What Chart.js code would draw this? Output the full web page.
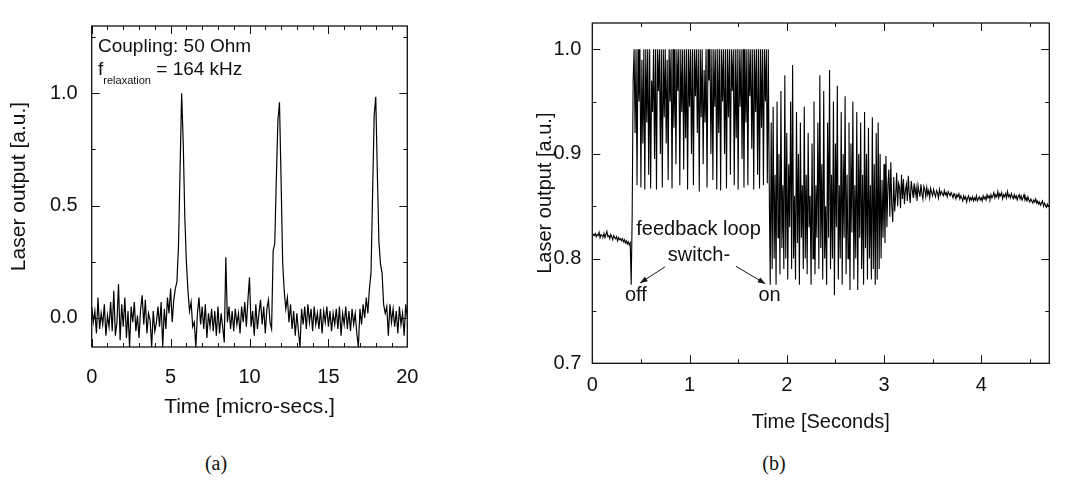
<!DOCTYPE html>
<html>
<head>
<meta charset="utf-8">
<script src="https://cdn.jsdelivr.net/npm/chart.js@4.4.1/dist/chart.umd.min.js"></script>
<style>
  html, body { margin: 0; padding: 0; background: #fff; }
  body { width: 1081px; height: 490px; position: relative; overflow: hidden; }
  canvas { position: absolute; top: 0; }
  #ca { left: 0; }
  #cb { left: 500px; }
  .cap { position: absolute; font-family: "Liberation Serif", "DejaVu Serif", serif; font-size: 20px; color: #111; transform: translate(-50%, -50%); white-space: nowrap; }
</style>
</head>
<body>
<canvas id="ca" width="440" height="440"></canvas>
<canvas id="cb" width="581" height="440"></canvas>
<div class="cap" style="left:216px; top:463px;">(a)</div>
<div class="cap" style="left:774px; top:463px;">(b)</div>
<script>
// ---------------- Data: panel (a) ----------------
const timeStepA = 0.1;           // micro-seconds between samples
const signalA = [
  0.05,-0.02,0.03,-0.07,0.09,-0.05,0.02,-0.03,0.06,-0.08,
  0.01,-0.04,0.07,-0.06,0.12,-0.08,-0.02,0.15,-0.10,0.06,
  -0.04,0.09,-0.09,0.03,-0.13,0.05,-0.02,0.07,-0.06,0.01,
  -0.09,0.04,0.10,-0.03,0.08,-0.07,0.02,-0.01,-0.13,0.03,
  -0.06,-0.02,0.05,-0.04,0.07,-0.13,0.04,-0.05,0.09,0.02,
  0.13,-0.02,0.08,0.13,0.16,0.32,0.66,1.00,0.78,0.45,
  0.25,0.12,0.03,0.07,-0.04,-0.02,-0.13,0.02,0.09,-0.03,
  0.05,-0.05,0.06,-0.09,0.02,-0.04,0.04,-0.06,0.03,-0.08,
  0.05,-0.07,0.02,-0.04,-0.11,0.27,-0.02,0.05,-0.05,0.03,
  -0.06,0.04,-0.03,0.02,-0.07,0.05,-0.02,0.07,-0.04,0.08,
  0.18,-0.04,0.03,-0.08,0.06,-0.05,0.02,0.08,-0.03,0.05,
  -0.07,0.04,0.08,-0.02,-0.05,0.30,0.33,0.62,0.88,0.96,
  0.62,0.25,0.12,0.04,0.09,-0.02,0.06,-0.05,0.03,-0.08,
  0.02,-0.06,-0.13,0.04,-0.03,0.05,-0.05,0.06,-0.02,0.04,
  -0.06,0.05,-0.03,0.02,-0.05,0.04,-0.07,0.03,-0.02,0.05,
  -0.04,0.03,-0.06,0.02,-0.03,0.04,-0.05,0.05,-0.08,0.02,
  -0.03,0.05,-0.05,0.03,-0.06,0.04,-0.03,0.02,-0.07,-0.13,
  0.04,-0.03,0.06,0.00,0.09,0.02,0.13,0.20,0.55,0.90,
  0.985,0.65,0.34,0.24,0.20,0.06,0.02,0.05,-0.08,0.06,
  -0.02,0.04,-0.04,0.03,-0.07,0.05,-0.03,0.02,-0.08,0.06,
  0.00
];
const xTicksA = [0, 5, 10, 15, 20];
const xMinorA = [1,2,3,4,6,7,8,9,11,12,13,14,16,17,18,19];
const yTicksA = [0.0, 0.5, 1.0];
const yMinorA = [0.25, 0.75, 1.25];

// ---------------- Data: panel (b) ----------------
const timeStepB = 0.01;          // seconds between samples
const signalB = [
  0.821,0.823,0.822,0.824,0.821,0.823,0.822,0.825,0.820,0.823,
  0.822,0.821,0.824,0.820,0.823,0.826,0.821,0.822,0.819,0.823,
  0.821,0.818,0.822,0.820,0.819,0.821,0.817,0.820,0.818,0.819,
  0.817,0.819,0.816,0.818,0.815,0.817,0.814,0.816,0.813,0.815,
  0.775,0.840,0.970,1.0,0.92,1.0,0.87,1.0,0.95,1.0,
  0.868,0.99,0.91,1.0,0.866,1.0,0.93,1.0,0.88,1.0,
  0.867,0.97,0.94,1.0,0.895,1.0,0.866,1.0,0.96,1.0,
  0.90,1.0,0.868,1.0,0.935,1.0,0.91,0.99,0.875,1.0,
  0.95,1.0,0.867,1.0,0.925,1.0,0.89,1.0,0.96,1.0,
  0.87,1.0,0.94,1.0,0.885,1.0,0.915,1.0,0.866,1.0,
  0.945,1.0,0.90,1.0,0.87,1.0,0.955,1.0,0.92,1.0,
  0.864,1.0,0.935,1.0,0.89,0.98,0.93,1.0,0.868,1.0,
  0.97,1.0,0.90,1.0,0.875,1.0,0.945,1.0,0.866,1.0,
  0.92,1.0,0.865,1.0,0.95,1.0,0.90,1.0,0.867,1.0,
  0.935,1.0,0.88,1.0,0.96,1.0,0.87,1.0,0.915,1.0,
  0.866,1.0,0.945,1.0,0.895,1.0,0.868,1.0,0.93,1.0,
  0.87,1.0,0.955,1.0,0.905,1.0,0.866,1.0,0.94,1.0,
  0.88,1.0,0.867,1.0,0.925,1.0,0.87,1.0,0.95,1.0,
  0.872,1.0,0.866,0.775,0.93,0.79,0.945,0.80,0.88,0.775,
  0.95,0.82,0.90,0.785,0.96,0.81,0.87,0.79,0.975,0.80,
  0.92,0.78,0.89,0.83,0.95,0.79,0.985,0.80,0.86,0.78,
  0.94,0.815,0.90,0.775,0.93,0.82,0.87,0.79,0.945,0.80,
  0.88,0.785,0.92,0.83,0.86,0.775,0.91,0.80,0.95,0.785,
  0.87,0.82,0.93,0.79,0.975,0.81,0.89,0.78,0.96,0.80,
  0.85,0.775,0.93,0.82,0.98,0.79,0.88,0.80,0.95,0.765,
  0.91,0.83,0.965,0.78,0.87,0.80,0.94,0.775,0.90,0.82,
  0.955,0.785,0.88,0.80,0.93,0.77,0.91,0.825,0.95,0.78,
  0.87,0.80,0.94,0.77,0.90,0.82,0.93,0.79,0.88,0.775,
  0.94,0.81,0.90,0.78,0.925,0.80,0.87,0.78,0.935,0.79,
  0.89,0.775,0.92,0.78,0.93,0.79,0.90,0.80,0.875,0.82,
  0.89,0.815,0.898,0.83,0.87,0.885,0.84,0.892,0.85,0.835,
  0.878,0.845,0.86,0.882,0.85,0.872,0.868,0.848,0.88,0.857,
  0.876,0.852,0.865,0.871,0.855,0.879,0.862,0.853,0.874,0.866,
  0.858,0.872,0.861,0.868,0.855,0.87,0.864,0.859,0.871,0.862,
  0.857,0.869,0.866,0.859,0.868,0.861,0.865,0.858,0.867,0.863,
  0.86,0.866,0.862,0.859,0.865,0.863,0.858,0.866,0.861,0.864,
  0.862,0.86,0.865,0.861,0.863,0.859,0.864,0.862,0.86,0.863,
  0.861,0.858,0.862,0.86,0.857,0.861,0.859,0.862,0.857,0.86,
  0.858,0.855,0.86,0.857,0.859,0.854,0.858,0.86,0.855,0.858,
  0.856,0.859,0.855,0.858,0.856,0.86,0.855,0.857,0.859,0.856,
  0.858,0.855,0.86,0.857,0.859,0.856,0.861,0.858,0.86,0.857,
  0.861,0.858,0.86,0.863,0.858,0.861,0.859,0.864,0.858,0.862,
  0.86,0.863,0.857,0.861,0.859,0.862,0.858,0.864,0.859,0.861,
  0.858,0.862,0.859,0.857,0.861,0.858,0.86,0.856,0.859,0.861,
  0.857,0.86,0.856,0.858,0.861,0.856,0.858,0.855,0.859,0.856,
  0.854,0.857,0.855,0.853,0.856,0.854,0.857,0.853,0.855,0.852,
  0.854,0.851,0.853,0.855,0.85,0.853,0.851,0.849,0.852,0.85,
  0.851
];
const xTicksB = [0, 1, 2, 3, 4];
const xMinorB = [0.5, 1.5, 2.5, 3.5, 4.5];
const yTicksB = [0.7, 0.8, 0.9, 1.0];
const yMinorB = [0.75, 0.85, 0.95];

// ---------------- Helpers ----------------
const timesA = signalA.map((_, i) => +(i * timeStepA).toFixed(3));
const timesB = signalB.map((_, i) => +(i * timeStepB).toFixed(3));
const FONT = '"Liberation Sans", Arial, Helvetica, sans-serif';
const INK = '#111';

const frameTicks = {
  id: 'frameTicks',
  afterDatasetsDraw(chart, args, o) {
    const { ctx, chartArea: ca, scales: { x, y } } = chart;
    ctx.save();
    ctx.strokeStyle = INK;
    ctx.lineWidth = 1;
    const seg = (x1, y1, x2, y2) => { ctx.beginPath(); ctx.moveTo(x1, y1); ctx.lineTo(x2, y2); ctx.stroke(); };
    const vx = (v, L) => { const p = Math.round(x.getPixelForValue(v)) + 0.5; seg(p, ca.bottom, p, ca.bottom - L); seg(p, ca.top, p, ca.top + L); };
    const vy = (v, L) => { const p = Math.round(y.getPixelForValue(v)) + 0.5; seg(ca.left, p, ca.left + L, p); seg(ca.right, p, ca.right - L, p); };
    o.xMajor.forEach(v => vx(v, o.major));
    o.xMinor.forEach(v => vx(v, o.minor));
    o.yMajor.forEach(v => vy(v, o.major));
    o.yMinor.forEach(v => vy(v, o.minor));
    ctx.lineWidth = 1.3;
    ctx.strokeRect(ca.left, ca.top, ca.width, ca.height);
    ctx.restore();
  }
};

const notes = {
  id: 'notes',
  afterDraw(chart, args, o) {
    const { ctx, scales: { x, y } } = chart;
    ctx.save();
    ctx.fillStyle = INK;
    ctx.strokeStyle = INK;
    (o.texts || []).forEach(t => {
      let px = x.getPixelForValue(t.x), py = y.getPixelForValue(t.y);
      ctx.textBaseline = 'alphabetic';
      ctx.textAlign = t.align || 'left';
      if (t.parts) {
        ctx.textAlign = 'left';
        t.parts.forEach(p => {
          ctx.font = p.size + 'px ' + FONT;
          ctx.fillText(p.text, px, py + (p.dy || 0));
          px += ctx.measureText(p.text).width;
        });
      } else {
        ctx.font = t.size + 'px ' + FONT;
        ctx.fillText(t.text, px, py);
      }
    });
    (o.arrows || []).forEach(a => {
      const x1 = x.getPixelForValue(a.x1), y1 = y.getPixelForValue(a.y1);
      const x2 = x.getPixelForValue(a.x2), y2 = y.getPixelForValue(a.y2);
      ctx.lineWidth = 1;
      ctx.beginPath(); ctx.moveTo(x1, y1); ctx.lineTo(x2, y2); ctx.stroke();
      const ang = Math.atan2(y2 - y1, x2 - x1), L = 8, W = 0.35;
      ctx.beginPath();
      ctx.moveTo(x2, y2);
      ctx.lineTo(x2 - L * Math.cos(ang - W), y2 - L * Math.sin(ang - W));
      ctx.lineTo(x2 - L * Math.cos(ang + W), y2 - L * Math.sin(ang + W));
      ctx.closePath(); ctx.fill();
    });
    ctx.restore();
  }
};

function makeChart(id, times, values, cfg) {
  return new Chart(document.getElementById(id), {
    type: 'line',
    data: {
      labels: times,
      datasets: [{ data: values, borderColor: '#000', borderWidth: cfg.lw, pointRadius: 0, tension: 0, fill: false }]
    },
    plugins: [frameTicks, notes],
    options: {
      responsive: false,
      animation: false,
      events: [],
      layout: { padding: cfg.pad },
      plugins: {
        legend: { display: false },
        tooltip: { enabled: false },
        frameTicks: { xMajor: cfg.xTicks, xMinor: cfg.xMinor, yMajor: cfg.yTicks, yMinor: cfg.yMinor, major: 8, minor: 4 },
        notes: cfg.notes
      },
      scales: {
        x: {
          type: 'linear', min: cfg.xMin, max: cfg.xMax,
          afterBuildTicks: s => { s.ticks = cfg.xTicks.map(v => ({ value: v })); },
          afterFit: s => { s.height = cfg.xH; },
          ticks: { autoSkip: false, maxRotation: 0, padding: cfg.xPad, color: INK, font: { family: FONT, size: cfg.tickSize }, callback: v => String(v) },
          grid: { display: false, drawTicks: false },
          border: { display: false },
          title: { display: true, text: cfg.xTitle, color: INK, font: { family: FONT, size: cfg.titleSize, lineHeight: 1.2 }, padding: { top: 0, bottom: cfg.xTitlePad } }
        },
        y: {
          type: 'linear', min: cfg.yMin, max: cfg.yMax,
          afterBuildTicks: s => { s.ticks = cfg.yTicks.map(v => ({ value: v })); },
          afterFit: s => { s.width = cfg.yW; },
          ticks: { autoSkip: false, padding: cfg.yPad, color: INK, font: { family: FONT, size: cfg.tickSize }, callback: v => v.toFixed(1) },
          grid: { display: false, drawTicks: false },
          border: { display: false },
          title: { display: true, text: 'Laser output [a.u.]', color: INK, font: { family: FONT, size: cfg.titleSize, lineHeight: 1.2 }, padding: { top: cfg.yTitlePad, bottom: 0 } }
        }
      }
    }
  });
}

makeChart('ca', timesA, signalA, {
  lw: 1.2,
  pad: { left: 0, top: 7, right: 32.7, bottom: 0 },
  xMin: 0, xMax: 20, yMin: -0.13, yMax: 1.3,
  xTicks: xTicksA, xMinor: xMinorA, yTicks: yTicksA, yMinor: yMinorA,
  xH: 93, yW: 91.7, xPad: 18, yPad: 14, tickSize: 20, titleSize: 21,
  xTitle: 'Time [micro-secs.]', xTitlePad: 20, yTitlePad: 7,
  notes: {
    texts: [
      { text: 'Coupling: 50 Ohm', x: 0.4, y: 1.186, size: 19 },
      { x: 0.4, y: 1.083, parts: [ { text: 'f', size: 19 }, { text: 'relaxation', size: 11, dy: 9 }, { text: ' = 164 kHz', size: 19 } ] }
    ]
  }
});

makeChart('cb', timesB, signalB, {
  lw: 1.1,
  pad: { left: 0, top: 6.3, right: 31.7, bottom: 0 },
  xMin: 0, xMax: 4.7, yMin: 0.7, yMax: 1.025,
  xTicks: xTicksB, xMinor: xMinorB, yTicks: yTicksB, yMinor: yMinorB,
  xH: 76.7, yW: 92.3, xPad: 10, yPad: 11, tickSize: 20, titleSize: 20,
  xTitle: 'Time [Seconds]', xTitlePad: 6, yTitlePad: 33,
  notes: {
    texts: [
      { text: 'feedback loop', x: 1.092, y: 0.8223, size: 20, align: 'center' },
      { text: 'switch-', x: 1.097, y: 0.7979, size: 20, align: 'center' },
      { text: 'off', x: 0.448, y: 0.7593, size: 20, align: 'center' },
      { text: 'on', x: 1.823, y: 0.7593, size: 20, align: 'center' }
    ],
    arrows: [
      { x1: 0.749, y1: 0.7922, x2: 0.491, y2: 0.7766 },
      { x1: 1.477, y1: 0.7927, x2: 1.779, y2: 0.776 }
    ]
  }
});
</script>
</body>
</html>
